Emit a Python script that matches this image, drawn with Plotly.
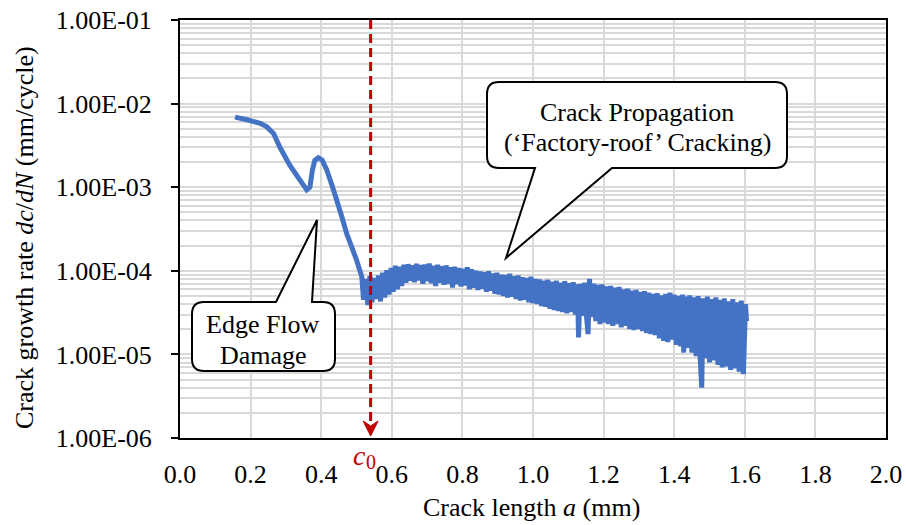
import plotly.graph_objects as go

# ---------------- data ----------------
# smooth early part (crack length a in mm, dc/dN in mm/cycle)
a_smooth = [0.156, 0.19, 0.227, 0.245, 0.265, 0.283, 0.31, 0.335, 0.359, 0.368,
            0.375, 0.382, 0.392, 0.403, 0.416, 0.43, 0.444, 0.458, 0.472, 0.486,
            0.5, 0.508, 0.515]
r_smooth = [6.9e-3, 6.4e-3, 5.8e-3, 5.3e-3, 4.4e-3, 3.0e-3, 1.86e-3, 1.3e-3, 9.3e-4, 1.0e-3,
            1.6e-3, 2.1e-3, 2.25e-3, 2.1e-3, 1.6e-3, 1.07e-3, 7.0e-4, 4.5e-4, 2.8e-4, 1.95e-4,
            1.35e-4, 1.05e-4, 8.5e-5]

# noisy 'factory-roof' part
a_noisy = [0.520, 0.526, 0.532, 0.538, 0.544, 0.550, 0.556, 0.562, 0.568, 0.574,
           0.580, 0.586, 0.592, 0.598, 0.604, 0.610, 0.616, 0.622, 0.628, 0.634,
           0.640, 0.646, 0.652, 0.658, 0.664, 0.670, 0.676, 0.682, 0.688, 0.694,
           0.700, 0.706, 0.712, 0.718, 0.724, 0.730, 0.736, 0.742, 0.748, 0.754,
           0.760, 0.766, 0.772, 0.778, 0.784, 0.790, 0.796, 0.802, 0.808, 0.814,
           0.820, 0.826, 0.832, 0.838, 0.844, 0.850, 0.856, 0.862, 0.868, 0.874,
           0.880, 0.886, 0.892, 0.898, 0.904, 0.910, 0.916, 0.922, 0.928, 0.934,
           0.940, 0.946, 0.952, 0.958, 0.964, 0.970, 0.976, 0.982, 0.988, 0.994,
           1.000, 1.006, 1.012, 1.018, 1.024, 1.030, 1.036, 1.042, 1.048, 1.054,
           1.060, 1.066, 1.072, 1.078, 1.084, 1.090, 1.096, 1.102, 1.108, 1.114,
           1.120, 1.126, 1.129, 1.134, 1.140, 1.146, 1.152, 1.156, 1.160, 1.166,
           1.172, 1.178, 1.184, 1.190, 1.196, 1.202, 1.208, 1.214, 1.220, 1.226,
           1.232, 1.238, 1.244, 1.250, 1.256, 1.262, 1.268, 1.274, 1.280, 1.286,
           1.292, 1.298, 1.304, 1.310, 1.316, 1.322, 1.328, 1.334, 1.340, 1.346,
           1.352, 1.358, 1.364, 1.370, 1.376, 1.382, 1.388, 1.394, 1.400, 1.406,
           1.412, 1.418, 1.424, 1.427, 1.432, 1.438, 1.444, 1.450, 1.456, 1.462,
           1.468, 1.474, 1.478, 1.482, 1.488, 1.494, 1.500, 1.506, 1.512, 1.518,
           1.524, 1.530, 1.536, 1.542, 1.548, 1.554, 1.560, 1.566, 1.572, 1.578,
           1.584, 1.590, 1.596, 1.602, 1.605]
r_noisy = [4.5e-5, 8.0e-5, 3.9e-5, 8.6e-5, 4.2e-5, 8.2e-5, 4.6e-5, 8.8e-5, 4.3e-5, 9.5e-5,
           4.8e-5, 1.02e-4, 5.2e-5, 1.08e-4, 5.6e-5, 1.15e-4, 6.0e-5, 1.12e-4, 6.6e-5, 1.18e-4,
           7.2e-5, 1.20e-4, 7.6e-5, 1.16e-4, 7.3e-5, 1.21e-4, 7.7e-5, 1.17e-4, 7.0e-5, 1.19e-4,
           7.5e-5, 1.22e-4, 7.1e-5, 1.15e-4, 6.6e-5, 1.18e-4, 7.2e-5, 1.13e-4, 6.8e-5, 1.16e-4,
           7.0e-5, 1.10e-4, 6.3e-5, 1.12e-4, 6.9e-5, 1.08e-4, 6.5e-5, 1.06e-4, 6.7e-5, 1.10e-4,
           6.0e-5, 1.04e-4, 6.3e-5, 1.00e-4, 5.9e-5, 9.8e-5, 6.1e-5, 9.6e-5, 5.6e-5, 9.9e-5,
           5.8e-5, 9.3e-5, 5.3e-5, 9.5e-5, 5.2e-5, 9.0e-5, 5.0e-5, 8.9e-5, 4.8e-5, 9.2e-5,
           4.9e-5, 8.6e-5, 4.6e-5, 8.8e-5, 4.4e-5, 8.4e-5, 4.5e-5, 8.2e-5, 4.2e-5, 8.5e-5,
           4.1e-5, 8.0e-5, 4.0e-5, 7.9e-5, 3.8e-5, 7.6e-5, 3.7e-5, 7.8e-5, 3.5e-5, 7.4e-5,
           3.4e-5, 7.6e-5, 3.3e-5, 7.2e-5, 3.2e-5, 7.5e-5, 3.1e-5, 7.1e-5, 3.2e-5, 7.3e-5,
           3.0e-5, 6.9e-5, 1.6e-5, 7.0e-5, 2.9e-5, 7.2e-5, 2.7e-5, 1.75e-5, 8.0e-5, 2.8e-5,
           7.0e-5, 2.5e-5, 6.8e-5, 2.3e-5, 6.9e-5, 2.4e-5, 6.5e-5, 2.3e-5, 6.6e-5, 2.2e-5,
           6.3e-5, 2.3e-5, 6.4e-5, 2.1e-5, 6.0e-5, 2.2e-5, 6.1e-5, 2.0e-5, 5.8e-5, 1.95e-5,
           5.9e-5, 2.0e-5, 5.6e-5, 1.9e-5, 5.7e-5, 1.8e-5, 5.5e-5, 1.75e-5, 5.3e-5, 1.7e-5,
           5.4e-5, 1.55e-5, 5.1e-5, 1.45e-5, 5.3e-5, 1.4e-5, 5.5e-5, 1.5e-5, 5.2e-5, 1.3e-5,
           5.0e-5, 1.25e-5, 5.2e-5, 1.05e-5, 4.9e-5, 1.2e-5, 5.1e-5, 1.05e-5, 4.8e-5, 9.5e-6,
           5.0e-5, 8.5e-6, 4.0e-6, 4.7e-5, 9.0e-6, 4.9e-5, 8.0e-6, 4.6e-5, 8.5e-6, 4.8e-5,
           7.5e-6, 4.5e-5, 7.0e-6, 4.7e-5, 7.2e-6, 4.3e-5, 6.5e-6, 4.6e-5, 6.8e-6, 4.2e-5,
           6.2e-6, 4.4e-5, 5.8e-6, 4.0e-5, 2.5e-5]

crack_length = a_smooth + a_noisy
growth_rate = r_smooth + r_noisy

c0_value = 0.54

x_ticks = [0.0, 0.2, 0.4, 0.6, 0.8, 1.0, 1.2, 1.4, 1.6, 1.8, 2.0]
x_ticktext = ["0.0", "0.2", "0.4", "0.6", "0.8", "1.0", "1.2", "1.4", "1.6", "1.8", "2.0"]
y_ticks = [1e-6, 1e-5, 1e-4, 1e-3, 1e-2, 1e-1]
y_ticktext = ["1.00E-06", "1.00E-05", "1.00E-04", "1.00E-03", "1.00E-02", "1.00E-01"]
y_minor = [m * 10.0 ** e for e in range(-6, -1) for m in range(2, 10)]

# ---------------- layout geometry ----------------
W, H = 906, 525
L, R, T, B = 180, 886, 20, 438
X0, X1 = 0.0, 2.0

def dx(px):
    return X0 + (px - L) / (R - L) * (X1 - X0)

def py_(py):
    return (B - py) / (B - T)

FONT = "Liberation Serif, Times New Roman, serif"
FS = 26
BLUE = "#4472C4"
RED = "#C00000"
GRID = "#D9D9D9"

fig = go.Figure()
fig.add_trace(go.Scatter(x=crack_length, y=growth_rate, mode="lines",
                         line=dict(color=BLUE, width=5, simplify=False), showlegend=False,
                         hoverinfo="skip"))


def P(px, py):
    return f"{dx(px):.5f},{py_(py):.5f}"


def bubble(left, top, right, bottom, tail, rad=12):
    # tail: (edge, base1_x, tip_x, tip_y, base2_x)
    edge, b1, tx, ty, b2 = tail
    parts = [f"M {P(left + rad, top)}"]
    if edge == "top":
        parts += [f"L {P(b1, top)}", f"L {P(tx, ty)}", f"L {P(b2, top)}"]
    parts += [f"L {P(right - rad, top)}", f"Q {P(right, top)} {P(right, top + rad)}",
              f"L {P(right, bottom - rad)}", f"Q {P(right, bottom)} {P(right - rad, bottom)}"]
    if edge == "bottom":
        parts += [f"L {P(b2, bottom)}", f"L {P(tx, ty)}", f"L {P(b1, bottom)}"]
    parts += [f"L {P(left + rad, bottom)}", f"Q {P(left, bottom)} {P(left, bottom - rad)}",
              f"L {P(left, top + rad)}", f"Q {P(left, top)} {P(left + rad, top)}", "Z"]
    return dict(type="path", xref="x", yref="paper", path=" ".join(parts),
                fillcolor="white", line=dict(color="black", width=2), layer="above")

shapes = [
    # c0 dashed line
    dict(type="line", xref="x", yref="paper", x0=c0_value, x1=c0_value,
         y0=1.0, y1=py_(426), line=dict(color=RED, width=3, dash="9px,5px"), layer="above"),
    bubble(487, 82, 787, 168, ("bottom", 535, 506, 258, 612)),
    bubble(192, 302, 335, 371, ("top", 276, 317, 220, 312)),
]
# arrowhead of the c0 line
xc_px = L + (c0_value - X0) / (X1 - X0) * (R - L)
shapes.append(dict(type="path", xref="x", yref="paper",
                   path=f"M {P(xc_px, 436)} L {P(xc_px - 7.5, 421)} L {P(xc_px, 426)} "
                        f"L {P(xc_px + 7.5, 421)} Z",
                   fillcolor=RED, line=dict(color=RED, width=1), layer="above"))

annotations = []
def txt(text, px, py, size=FS, color="black"):
    annotations.append(dict(text=text, x=dx(px), y=py_(py), xref="x", yref="paper",
                            showarrow=False, xanchor="center", yanchor="middle",
                            font=dict(family=FONT, size=size, color=color)))

txt("Crack Propagation", 637, 112)
txt("(\u2018Factory-roof\u2019 Cracking)", 637, 142)
txt("Edge Flow", 263, 324)
txt("Damage", 263, 355)
txt("<i>c</i>", 359, 455, size=28, color=RED)
txt("0", 371, 462, size=20, color=RED)

# axis titles
annotations.append(dict(text="Crack length <i>a</i> (mm)", x=dx(531), y=py_(507),
                        xref="x", yref="paper", showarrow=False, xanchor="center",
                        yanchor="middle", font=dict(family=FONT, size=FS, color="black")))
annotations.append(dict(text="Crack growth rate <i>dc</i>/<i>dN</i> (mm/cycle)",
                        x=(25 - L) / (R - L), y=py_(238), xref="paper", yref="paper",
                        xanchor="center", yanchor="middle", showarrow=False, textangle=-90,
                        font=dict(family=FONT, size=FS, color="black")))

fig.update_layout(
    width=W, height=H, autosize=False,
    margin=dict(l=L, r=W - R, t=T, b=H - B, autoexpand=False),
    paper_bgcolor="white", plot_bgcolor="white",
    shapes=shapes, annotations=annotations,
    font=dict(family=FONT, size=FS, color="black"),
    xaxis=dict(range=[X0, X1], tickvals=x_ticks, ticktext=x_ticktext,
               showgrid=True, gridcolor=GRID, gridwidth=1.5, automargin=False,
               showline=True, linecolor="black", linewidth=2, mirror=True,
               ticks="", ticklabelstandoff=12, zeroline=False,
               tickfont=dict(family=FONT, size=FS, color="black")),
    yaxis=dict(type="log", range=[-6, -1], tickvals=y_ticks, ticktext=y_ticktext,
               showgrid=True, gridcolor=GRID, gridwidth=1.5, automargin=False,
               showline=True, linecolor="black", linewidth=2, mirror=True,
               ticks="outside", ticklen=7, tickwidth=2, tickcolor="black",
               ticklabelstandoff=14, zeroline=False,
               minor=dict(tickvals=y_minor, showgrid=True, gridcolor=GRID, gridwidth=1.5,
                          ticks=""),
               tickfont=dict(family=FONT, size=FS, color="black")),
)

fig.write_html("out.html")
